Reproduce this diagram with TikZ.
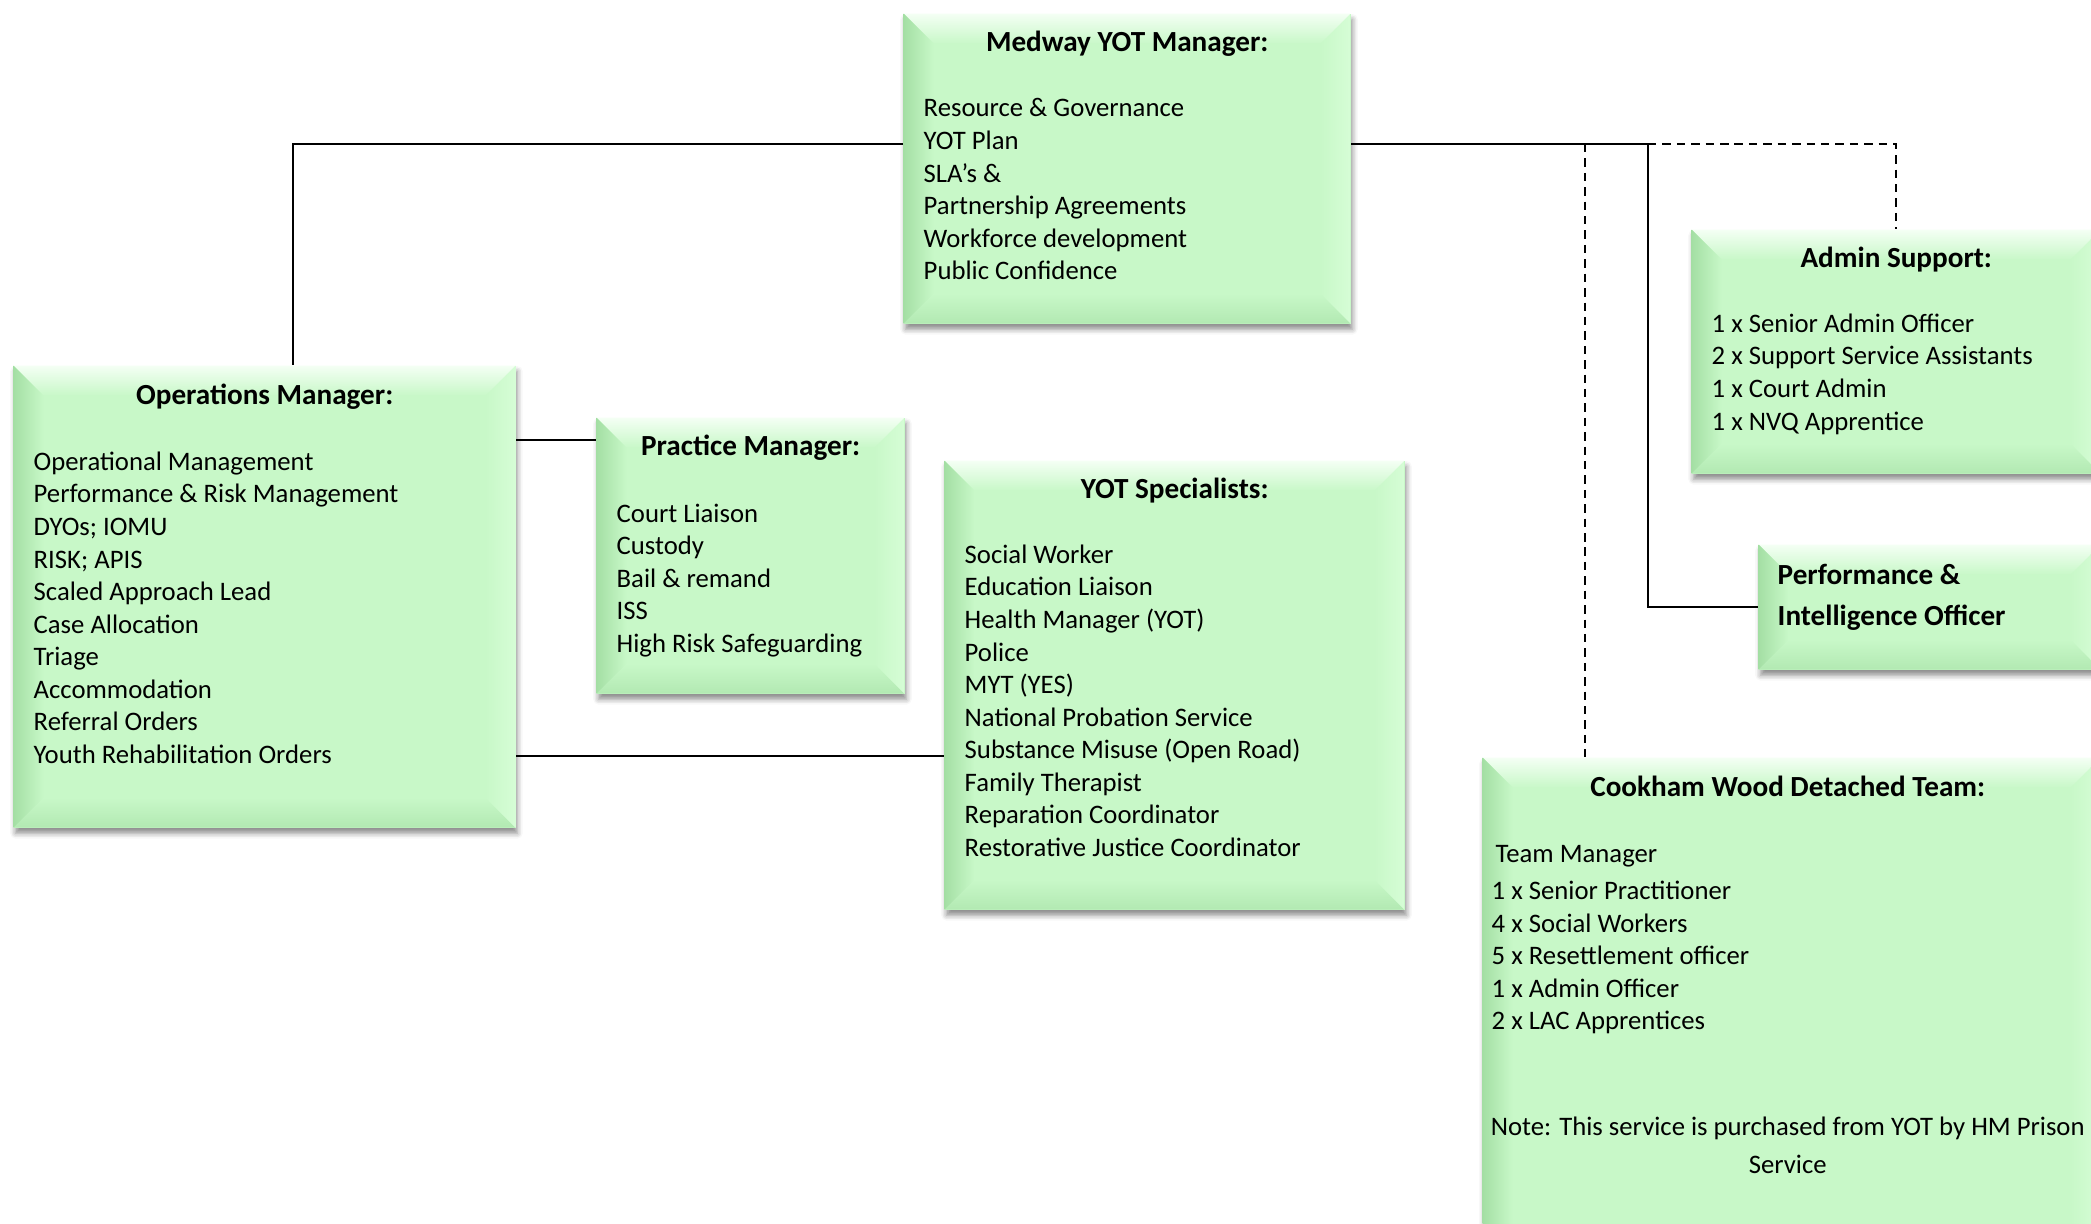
\documentclass[tikz,border=0pt]{standalone}
\usepackage{fontspec}
\setmainfont{Carlito}
\usetikzlibrary{calc}
\usetikzlibrary{positioning}
\usetikzlibrary{shadows.blur}
\definecolor{boxface}{HTML}{C8F8C8}
\definecolor{bevtop}{HTML}{F4FFF4}
\definecolor{bevleft}{HTML}{A4DFA4}
\definecolor{bevbot}{HTML}{B2E9B2}
\definecolor{bevright}{HTML}{D6FDD6}
\tikzset{
  box/.style={rectangle, fill=boxface, inner sep=0, anchor=north west,
    blur shadow={shadow xshift=0.5pt, shadow yshift=-1.6pt, shadow blur radius=1.5pt, shadow opacity=45},
    path picture={
      \coordinate (bsw) at (path picture bounding box.south west);
      \coordinate (bne) at (path picture bounding box.north east);
      \coordinate (bnw) at (bsw |- bne);
      \coordinate (bse) at (bne |- bsw);
      \shade[top color=bevtop, bottom color=boxface] (bnw) -- (bne) -- ($(bne)+(-.3,-.3)$) -- ($(bnw)+(.3,-.3)$) -- cycle;
      \shade[left color=bevleft, right color=boxface] (bnw) -- ($(bnw)+(.3,-.3)$) -- ($(bsw)+(.3,.3)$) -- (bsw) -- cycle;
      \shade[bottom color=bevbot, top color=boxface] (bsw) -- ($(bsw)+(.3,.3)$) -- ($(bse)+(-.3,.3)$) -- (bse) -- cycle;
      \shade[right color=bevright, left color=boxface] (bse) -- ($(bse)+(-.3,.3)$) -- ($(bne)+(-.3,-.3)$) -- (bne) -- cycle;
    }},
  title/.style={font=\fontsize{8.3}{10}\selectfont\bfseries, inner sep=0, anchor=base},
  items/.style={font=\fontsize{7.6}{9.27}\selectfont, align=left, inner sep=0, anchor=north west,
    execute at begin node=\strut},
  link/.style={black, line width=0.6pt},
  dlink/.style={link, dash pattern=on 2.4pt off 1.7pt}
}
\begin{document}
\begin{tikzpicture}
\useasboundingbox (0,0) rectangle (20.91,-12.23);
\clip (0,0) rectangle (20.91,-12.23);

% boxes
\node[box, minimum width=4.47cm, minimum height=3.10cm] (med) at (9.03,-0.13) {};
\node[box, minimum width=5.02cm, minimum height=4.62cm] (ops) at (0.13,-3.65) {};
\node[box, minimum width=3.08cm, minimum height=2.76cm] (prac) at (5.96,-4.17) {};
\node[box, minimum width=4.60cm, minimum height=4.49cm] (spec) at (9.44,-4.60) {};
\node[box, minimum width=4.09cm, minimum height=2.44cm] (adm) at (16.91,-2.29) {};
\node[box, minimum width=3.42cm, minimum height=1.25cm] (perf) at (17.58,-5.44) {};
\node[box, minimum width=6.18cm, minimum height=5.03cm] (cook) at (14.82,-7.57) {};

% connectors
\coordinate (jl) at (2.93,-1.44);
\coordinate (jd) at (15.85,-1.44);
\coordinate (jr) at (16.48,-1.44);
\coordinate (jp) at (5.96,-4.40);
\coordinate (js) at (9.44,-7.56);
\draw[link] (med.west |- jl) -| (jl |- ops.north);
\draw[dlink] (jd) -- (jd |- cook.north);
\draw[dlink] (jr) -| (adm.north);
\draw[link] (med.east |- jr) -- (jr) |- (perf.west);
\draw[link] (ops.east |- jp) -- (prac.west |- jp);
\draw[link] (ops.east |- js) -- (spec.west |- js);

% texts
\node[title] (medt) at ($(med.north)+(0,-0.38)$) {Medway YOT Manager:};
\node[items] (medl) at ($(med.north west)+(0.2,-0.85)$) {Resource \& Governance\\YOT Plan\\SLA’s \&\\Partnership Agreements\\Workforce development\\Public Confidence};

\node[title] (opst) at ($(ops.north)+(0,-0.39)$) {Operations Manager:};
\node[items] (opsl) at ($(ops.north west)+(0.2,-0.86)$) {Operational Management\\Performance \& Risk Management\\DYOs; IOMU\\RISK; APIS\\Scaled Approach Lead\\Case Allocation\\Triage\\Accommodation\\Referral Orders\\Youth Rehabilitation Orders};

\node[title] (pract) at ($(prac.north)+(0,-0.38)$) {Practice Manager:};
\node[items] (pracl) at ($(prac.north west)+(0.2,-0.86)$) {Court Liaison\\Custody\\Bail \& remand\\ISS\\High Risk Safeguarding};

\node[title] (spect) at ($(spec.north)+(0,-0.38)$) {YOT Specialists:};
\node[items] (specl) at ($(spec.north west)+(0.2,-0.84)$) {Social Worker\\Education Liaison\\Health Manager (YOT)\\Police\\MYT (YES)\\National Probation Service\\Substance Misuse (Open Road)\\Family Therapist\\Reparation Coordinator\\Restorative Justice Coordinator};

\node[title] (admt) at ($(adm.north)+(0,-0.38)$) {Admin Support:};
\node[items] (adml) at ($(adm.north west)+(0.2,-0.84)$) {1 x Senior Admin Officer\\2 x Support Service Assistants\\1 x Court Admin\\1 x NVQ Apprentice};

\node[items, font=\fontsize{8.3}{11.7}\selectfont\bfseries] (perft) at ($(perf.north west)+(0.19,-0.195)$) {Performance \&\\Intelligence Officer};

\node[title] (cookt) at ($(cook.north)+(-0.04,-0.39)$) {Cookham Wood Detached Team:};
\node[items] (cookl) at ($(cook.north west)+(0.09,-0.88)$) {\hspace*{0.04cm}Team Manager\\[1.2pt]1 x Senior Practitioner\\4 x Social Workers\\5 x Resettlement officer\\1 x Admin Officer\\2 x LAC Apprentices};
\node[items, align=center, anchor=north, font=\fontsize{7.6}{10.8}\selectfont] (cookn) at ($(cook.north)+(-0.04,-3.59)$) {Note: This service is purchased from YOT by HM Prison\\Service};
\end{tikzpicture}
\end{document}
